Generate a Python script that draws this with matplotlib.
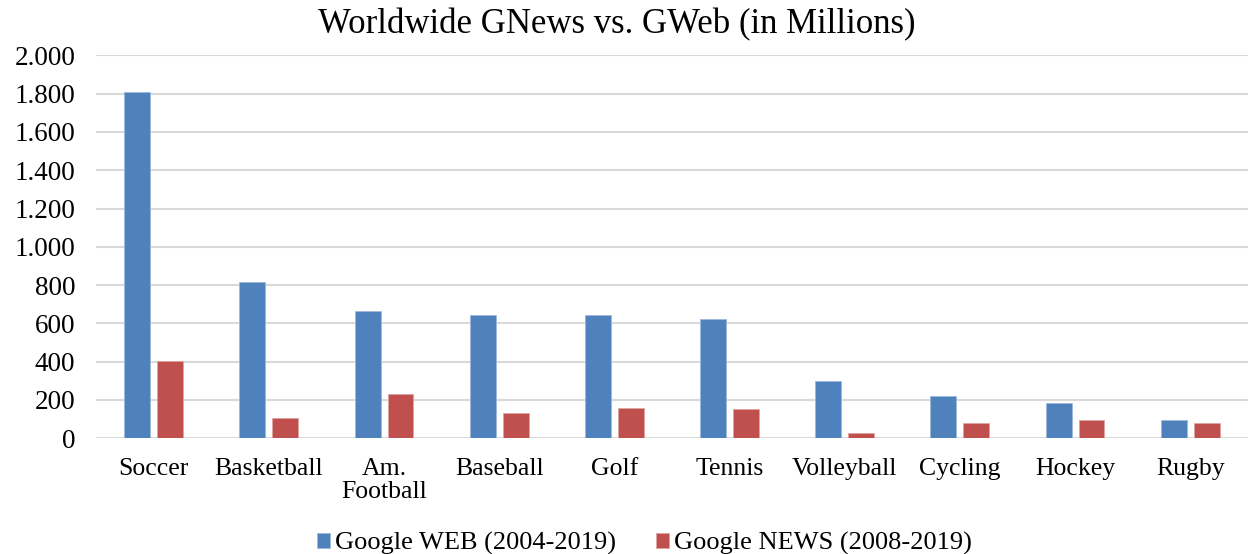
import numpy as np
import matplotlib
matplotlib.use("Agg")
import matplotlib.pyplot as plt
from matplotlib.ticker import FuncFormatter

sports = ["Soccer", "Basketball", "Am.\nFootball", "Baseball", "Golf",
          "Tennis", "Volleyball", "Cycling", "Hockey", "Rugby"]
web = [1809, 814, 664, 645, 642, 621, 300, 222, 186, 94]
news = [406, 108, 229, 132, 157, 152, 25, 77, 96, 77]

plt.rcParams["font.family"] = ["Liberation Serif", "DejaVu Serif"]

fig = plt.figure(figsize=(12.49, 5.54), dpi=100)
ax = fig.add_axes([0.077, 0.209, 0.922, 0.691])

x = np.arange(len(sports))
w = 0.225
off = 0.143
ax.bar(x - off, web, w, color="#4F81BD", edgecolor="#9DB8DC", linewidth=0.6,
       label="Google WEB (2004-2019)", zorder=3)
ax.bar(x + off, news, w, color="#C0504D", edgecolor="#E0A3A1", linewidth=0.6,
       label="Google NEWS (2008-2019)", zorder=3)

ax.set_xlim(-0.5, len(sports) - 0.5)
ax.set_ylim(0, 2000)
ax.set_yticks(range(0, 2001, 200))
ax.yaxis.set_major_formatter(FuncFormatter(lambda v, p: f"{int(v):,}".replace(",", ".")))
ax.grid(axis="y", color="#d9d9d9", linewidth=1.5, zorder=0)
for s in ax.spines.values():
    s.set_visible(False)
ax.tick_params(axis="y", length=0, pad=15, labelsize=19.5)
ax.tick_params(axis="x", length=0, pad=14, labelsize=18.5)
ax.set_xticks(x)
ax.set_xticklabels(sports, linespacing=1.1)

fig.suptitle("Worldwide GNews vs. GWeb (in Millions)", fontsize=25, x=0.494, y=0.985)

fig.legend(loc="lower center", bbox_to_anchor=(0.516, -0.045), ncol=2,
           frameon=False, fontsize=19, handlelength=0.5, handleheight=0.5,
           handletextpad=0.2, columnspacing=1.5)

fig.savefig("out.png", dpi=100)
